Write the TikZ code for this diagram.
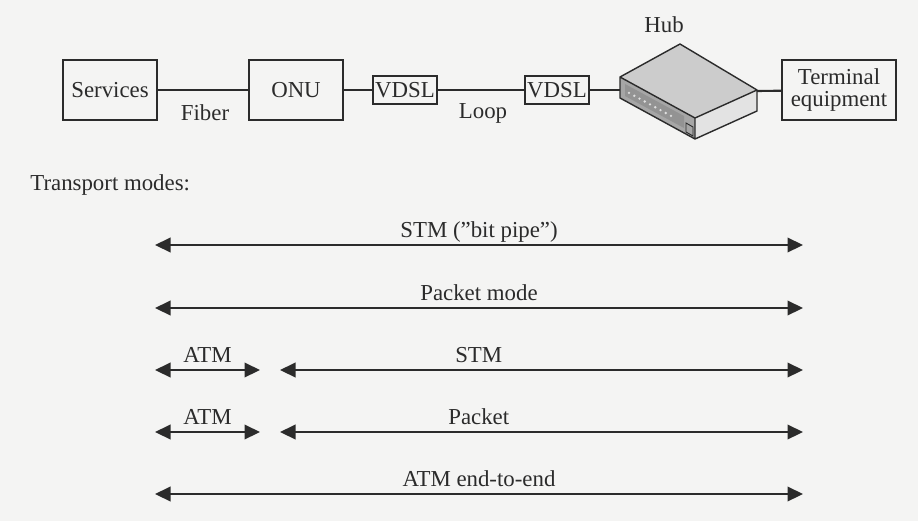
\documentclass[tikz,border=0pt]{standalone}
\usepackage{fontspec}
\setmainfont{Liberation Serif}
\usetikzlibrary{arrows.meta}

\definecolor{ink}{HTML}{2B2B2B}
\definecolor{paper}{HTML}{F4F4F3}

\tikzset{
  unit/.style={draw=ink, line width=1.4pt, minimum height=1.2cm, minimum width=1.88cm, align=center, text=ink, inner sep=2pt},
  modem/.style={draw=ink, line width=1.4pt, minimum height=0.56cm, minimum width=1.28cm, text=ink, inner sep=1pt},
  link/.style={draw=ink, line width=1.2pt},
  mode/.style={draw=ink, line width=1.2pt, {Triangle[length=3.1mm,width=2.9mm]}-{Triangle[length=3.1mm,width=2.9mm]}},
  lab/.style={text=ink, anchor=base, yshift=4pt, inner sep=0pt},
  plain/.style={text=ink}
}

\begin{document}
\begin{tikzpicture}[x=0.02cm,y=-0.02cm,font=\fontsize{13}{14.5}\selectfont]
\fill[paper] (0,0) rectangle (918,521);
\useasboundingbox (0,0) rectangle (918,521);

% access chain
\node[unit] (services) at (110,90) {Services};
\node[unit] (onu) at (296,90) {ONU};
\node[modem] (vdslA) at (405,90) {VDSL};
\node[modem] (vdslB) at (557,90) {VDSL};
\node[unit, minimum width=2.28cm] (terminal) at (839,90) {Terminal\\[-2pt]equipment};
\node[plain] (fiber) at (205,113) {Fiber};
\node[plain] (loop) at (483,113) {Loop};

% hub box
\fill[gray!40] (620,77) -- (680,44) -- (757,90) -- (695,118) -- cycle;
\fill[gray!70] (620,77) -- (695,118) -- (695,139) -- (620,98) -- cycle;
\fill[gray!22] (695,118) -- (757,90) -- (757,111) -- (695,139) -- cycle;
\fill[gray!85] (625,84) -- (684,116) -- (684,128) -- (625,96) -- cycle;
\foreach \t in {0.12,0.19,...,0.75}
  \fill[gray!25] ({620+75*\t},{77+41*\t+11}) circle (1.3);
\draw[ink, line width=0.5pt] (686,123) -- (693,127) -- (693,136) -- (686,132) -- cycle;
\draw[ink, line width=0.8pt, line join=round]
  (620,77) -- (680,44) -- (757,90) -- (757,111) -- (695,139) -- (620,98) -- cycle
  (620,77) -- (695,118) -- (757,90) (695,118) -- (695,139);
\node[plain] (hub) at (664,25) {Hub};
\coordinate (hubW) at (620,90);
\coordinate (hubE) at (757,91);

\draw[link] (services) -- (onu);
\draw[link] (onu) -- (vdslA);
\draw[link] (vdslA) -- (vdslB);
\draw[link] (vdslB) -- (hubW);
\draw[link] (hubE) -- (terminal);

% transport modes
\node[plain, anchor=base west, inner sep=0pt] (modes) at (30,190) {Transport modes:};
\foreach \r/\y in {1/245,2/308,3/370,4/432,5/494} {
  \coordinate (L\r) at (155,\y);
  \coordinate (R\r) at (803,\y);
}
\coordinate (A3) at (260,370);
\coordinate (B3) at (280,370);
\coordinate (A4) at (260,432);
\coordinate (B4) at (280,432);

\draw[mode] (L1) -- node[lab] {STM (''bit pipe'')} (R1);
\draw[mode] (L2) -- node[lab] {Packet mode} (R2);
\draw[mode] (L3) -- node[lab] {ATM} (A3);
\draw[mode] (B3) -- node[lab, pos=0.38] {STM} (R3);
\draw[mode] (L4) -- node[lab] {ATM} (A4);
\draw[mode] (B4) -- node[lab, pos=0.38] {Packet} (R4);
\draw[mode] (L5) -- node[lab] {ATM end-to-end} (R5);
\end{tikzpicture}
\end{document}
